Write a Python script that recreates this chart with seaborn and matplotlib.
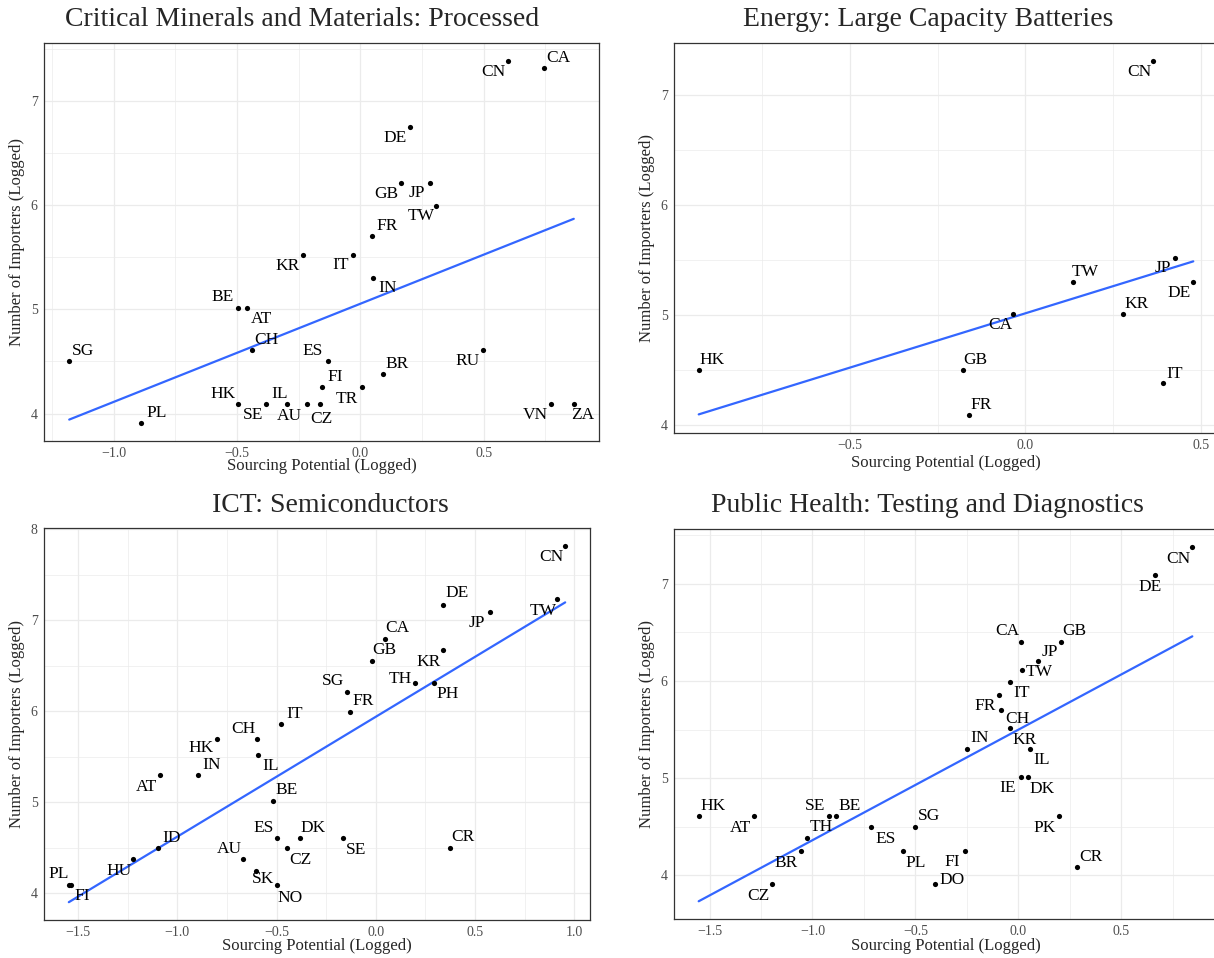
import numpy as np
import pandas as pd
import matplotlib
matplotlib.use("Agg")
import matplotlib.pyplot as plt
import seaborn as sns
from matplotlib.ticker import FuncFormatter

# ---- data: sourcing potential (logged) vs number of importers (logged) ----
codes1 = ["CN", "CA", "DE", "GB", "JP", "TW", "FR", "KR", "IT", "IN", "BE", "AT", "CH", "SG",
          "PL", "HK", "SE", "IL", "AU", "CZ", "FI", "ES", "TR", "BR", "RU", "VN", "ZA"]
sourcing1 = [0.600, 0.745, 0.203, 0.164, 0.284, 0.306, 0.046, -0.234, -0.028, 0.053, -0.497,
             -0.460, -0.440, -1.180, -0.888, -0.495, -0.384, -0.296, -0.215, -0.164, -0.156,
             -0.132, 0.007, 0.093, 0.497, 0.772, 0.865]
importers1 = [7.38, 7.31, 6.75, 6.21, 6.21, 5.99, 5.70, 5.52, 5.52, 5.30, 5.01, 5.01, 4.61, 4.50,
              3.91, 4.09, 4.09, 4.09, 4.09, 4.09, 4.25, 4.50, 4.25, 4.38, 4.61, 4.09, 4.09]

codes2 = ["CN", "JP", "DE", "TW", "KR", "CA", "HK", "GB", "IT", "FR"]
sourcing2 = [0.364, 0.426, 0.479, 0.136, 0.279, -0.034, -0.931, -0.177, 0.392, -0.160]
importers2 = [7.31, 5.52, 5.30, 5.30, 5.01, 5.01, 4.50, 4.50, 4.38, 4.09]

codes3 = ["CN", "TW", "DE", "JP", "CA", "GB", "KR", "TH", "PH", "SG", "FR", "IT", "HK", "CH", "IL",
          "IN", "AT", "BE", "ES", "DK", "SE", "CR", "CZ", "ID", "AU", "HU", "SK", "NO", "PL", "FI"]
sourcing3 = [0.955, 0.916, 0.337, 0.576, 0.045, -0.020, 0.337, 0.200, 0.292, -0.143, -0.129,
             -0.476, -0.800, -0.598, -0.592, -0.894, -1.086, -0.520, -0.496, -0.384, -0.165,
             0.375, -0.445, -1.096, -0.667, -1.224, -0.606, -0.496, -1.547, -1.537]
importers3 = [7.82, 7.24, 7.17, 7.09, 6.80, 6.55, 6.68, 6.31, 6.31, 6.21, 5.99, 5.86, 5.70, 5.70,
              5.52, 5.30, 5.30, 5.01, 4.61, 4.61, 4.61, 4.50, 4.50, 4.50, 4.38, 4.38, 4.25, 4.09,
              4.09, 4.09]

codes4 = ["CN", "DE", "CA", "GB", "JP", "TW", "IT", "FR", "CH", "KR", "IL", "IN", "IE", "DK",
          "HK", "AT", "SE", "BE", "PK", "TH", "ES", "SG", "BR", "PL", "FI", "CZ", "DO", "CR"]
sourcing4 = [0.846, 0.667, 0.013, 0.208, 0.094, 0.016, -0.042, -0.094, -0.083, -0.042, 0.056,
             -0.251, 0.013, 0.049, -1.553, -1.284, -0.919, -0.888, 0.197, -1.027, -0.714,
             -0.503, -1.058, -0.562, -0.257, -1.195, -0.403, 0.286]
importers4 = [7.38, 7.09, 6.40, 6.40, 6.21, 6.11, 5.99, 5.86, 5.70, 5.52, 5.30, 5.30, 5.01, 5.01,
              4.61, 4.61, 4.61, 4.61, 4.61, 4.38, 4.50, 4.50, 4.25, 4.25, 4.25, 3.91, 3.91, 4.09]

titles = ["Critical Minerals and Materials: Processed",
          "Energy: Large Capacity Batteries",
          "ICT: Semiconductors",
          "Public Health: Testing and Diagnostics"]
x_title = "Sourcing Potential (Logged)"
y_title = "Number of Importers (Logged)"

# ---- label placement (pixel offsets from each point, y up) ----
offs1 = {"CN": (-15, -11), "CA": (14, 10), "DE": (-15, -11), "GB": (-15, -11), "JP": (-14, -10),
         "TW": (-15, -10), "FR": (15, 10), "KR": (-15, -11), "IT": (-13, -10), "IN": (14, -10),
         "BE": (-15, 11), "AT": (15, -11), "CH": (15, 10), "SG": (14, 10), "PL": (15, 10),
         "HK": (-15, 10), "SE": (-13, -11), "IL": (-8, 10), "AU": (-18, -12), "CZ": (1, -15),
         "FI": (13, 10), "ES": (-15, 10), "TR": (-15, -12), "BR": (14, 10), "RU": (-15, -11),
         "VN": (-15, -11), "ZA": (9, -11)}
offs2 = {"CN": (-14, -11), "JP": (-12, -10), "DE": (-14, -11), "TW": (12, 10), "KR": (13, 10),
         "CA": (-13, -11), "HK": (13, 10), "GB": (12, 10), "IT": (12, 9), "FR": (12, 10)}
offs3 = {"CN": (-14, -11), "TW": (-14, -12), "DE": (14, 12), "JP": (-13, -11), "CA": (13, 11),
         "GB": (13, 11), "KR": (-14, -12), "TH": (-15, 4), "PH": (14, -11), "SG": (-14, 11),
         "FR": (13, 11), "IT": (13, 10), "HK": (-16, -9), "CH": (-14, 10), "IL": (12, -11),
         "IN": (13, 10), "AT": (-14, -12), "BE": (14, 11), "ES": (-14, 10), "DK": (14, 10),
         "SE": (13, -12), "CR": (13, 11), "CZ": (13, -12), "ID": (13, 10), "AU": (-14, 10),
         "HU": (-14, -12), "SK": (8, -8), "NO": (13, -13), "PL": (-10, 11), "FI": (11, -11)}
offs4 = {"CN": (-14, -12), "DE": (-5, -12), "CA": (-14, 11), "GB": (13, 11), "JP": (12, 9),
         "TW": (18, -2), "IT": (12, -11), "FR": (-14, -11), "CH": (16, -9), "KR": (15, -12),
         "IL": (12, -11), "IN": (13, 11), "IE": (-13, -11), "DK": (14, -12), "HK": (14, 10),
         "AT": (-14, -12), "SE": (-14, 10), "BE": (14, 10), "PK": (-14, -12), "TH": (14, 11),
         "ES": (14, -12), "SG": (14, 11), "BR": (-14, -12), "PL": (13, -12), "FI": (-13, -11),
         "CZ": (-14, -12), "DO": (17, 4), "CR": (14, 10)}

# ---- styling ----
sns.set_style("white")
plt.rcParams["font.family"] = ["Liberation Serif", "DejaVu Serif"]
plt.rcParams["axes.unicode_minus"] = True

W, H = 1214, 958
fig = plt.figure(figsize=(W / 100, H / 100), dpi=100)

panels = [
    dict(codes=codes1, x=sourcing1, y=importers1, offs=offs1, title=titles[0],
         frame=(44, 43, 599, 441), xticks=[-1.0, -0.5, 0.0, 0.5], yticks=[4, 5, 6, 7],
         title_at=(302, 19), xlab_y=466, ylab_x=17),
    dict(codes=codes2, x=sourcing2, y=importers2, offs=offs2, title=titles[1],
         frame=(674, 43, 1218, 433), xticks=[-0.5, 0.0, 0.5], yticks=[4, 5, 6, 7],
         title_at=(928, 19), xlab_y=463, ylab_x=647),
    dict(codes=codes3, x=sourcing3, y=importers3, offs=offs3, title=titles[2],
         frame=(44, 528, 590, 920), xticks=[-1.5, -1.0, -0.5, 0.0, 0.5, 1.0], yticks=[4, 5, 6, 7, 8],
         title_at=(330, 505), xlab_y=946, ylab_x=17),
    dict(codes=codes4, x=sourcing4, y=importers4, offs=offs4, title=titles[3],
         frame=(674, 529, 1217, 919), xticks=[-1.5, -1.0, -0.5, 0.0, 0.5], yticks=[4, 5, 6, 7],
         title_at=(927, 505), xlab_y=946, ylab_x=647),
]

grid_col = "#EBEBEB"
frame_col = "#333333"
blue = "#3366FF"
px2pt = 72 / 100


def minor_between(ticks, lo, hi):
    step = ticks[1] - ticks[0]
    cands = np.arange(ticks[0] - step / 2, ticks[-1] + step, step)
    return [c for c in cands if lo < c < hi]


for p in panels:
    l, t, r, b = p["frame"]
    ax = fig.add_axes([l / W, 1 - b / H, (r - l) / W, (b - t) / H])
    ax.set_axisbelow(True)
    df = pd.DataFrame({"code": p["codes"], "sourcing": p["x"], "importers": p["y"]})

    sns.regplot(data=df, x="sourcing", y="importers", scatter=False, ci=None,
                color=blue, line_kws=dict(lw=1.6), ax=ax)
    sns.scatterplot(data=df, x="sourcing", y="importers", color="black", s=14,
                    linewidth=0, ax=ax, zorder=3)

    # limits cover the points and the fitted line, with a 5% margin
    xs = np.asarray(p["x"])
    ys = np.asarray(p["y"])
    slope, icpt = np.polyfit(xs, ys, 1)
    fit_ends = icpt + slope * np.array([xs.min(), xs.max()])
    x0, x1 = xs.min(), xs.max()
    y0, y1 = min(ys.min(), fit_ends.min()), max(ys.max(), fit_ends.max())
    ax.set_xlim(x0 - 0.05 * (x1 - x0), x1 + 0.05 * (x1 - x0))
    ax.set_ylim(y0 - 0.05 * (y1 - y0), y1 + 0.05 * (y1 - y0))

    ax.set_xticks(p["xticks"])
    ax.set_yticks(p["yticks"])
    ax.set_xticks(minor_between(p["xticks"], *ax.get_xlim()), minor=True)
    ax.set_yticks(minor_between(p["yticks"], *ax.get_ylim()), minor=True)
    ax.xaxis.set_major_formatter(FuncFormatter(lambda v, _: f"{v:.1f}".replace("-", "\u2212")))
    ax.yaxis.set_major_formatter(FuncFormatter(lambda v, _: f"{v:.0f}"))

    ax.grid(which="major", color=grid_col, lw=0.9)
    ax.grid(which="minor", color=grid_col, lw=0.5)
    ax.tick_params(which="minor", length=0)
    ax.tick_params(which="major", length=2.6, width=0.8, color=frame_col,
                   labelsize=10, labelcolor="#4D4D4D", pad=2)
    for s in ax.spines.values():
        s.set_color(frame_col)
        s.set_linewidth(0.9)

    for code, xv, yv in zip(p["codes"], p["x"], p["y"]):
        dx, dy = p["offs"][code]
        ax.annotate(code, (xv, yv), xytext=(dx * px2pt, dy * px2pt),
                    textcoords="offset points", ha="center", va="center",
                    fontsize=12.5, color="black", zorder=4)

    ax.set_xlabel(x_title, fontsize=12)
    ax.set_ylabel(y_title, fontsize=12)
    ax.xaxis.set_label_coords(0.5, -(p["xlab_y"] - b) / (b - t))
    ax.xaxis.label.set_va("center")
    ax.yaxis.set_label_coords((p["ylab_x"] - l) / (r - l), 0.5)
    ax.yaxis.label.set_va("center")

    tx, ty = p["title_at"]
    fig.text(tx / W, 1 - ty / H, p["title"], ha="center", va="center", fontsize=20)

fig.savefig("out.png", dpi=100)
